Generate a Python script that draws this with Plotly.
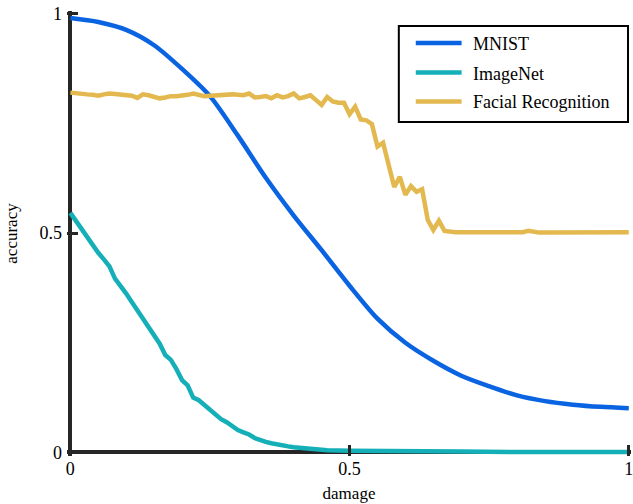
import plotly.graph_objects as go

# Accuracy versus damage for three networks
damage_mnist = [0.00, 0.05, 0.10, 0.15, 0.20, 0.25, 0.30, 0.35, 0.40, 0.45, 0.50,
                0.55, 0.60, 0.65, 0.70, 0.75, 0.80, 0.85, 0.90, 0.95, 1.00]
acc_mnist = [0.990, 0.981, 0.963, 0.928, 0.874, 0.812, 0.722, 0.626, 0.540, 0.461, 0.380,
             0.305, 0.250, 0.209, 0.175, 0.151, 0.130, 0.117, 0.109, 0.104, 0.101]

damage_imagenet = [0.00, 0.01, 0.02, 0.03, 0.04, 0.05, 0.06, 0.07, 0.08, 0.09,
                   0.10, 0.11, 0.12, 0.13, 0.14, 0.15, 0.16, 0.17, 0.18, 0.19,
                   0.20, 0.21, 0.22, 0.23, 0.24, 0.25, 0.26, 0.27, 0.28, 0.29,
                   0.30, 0.31, 0.32, 0.33, 0.34, 0.35, 0.36, 0.37, 0.38, 0.39,
                   0.40, 0.42, 0.44, 0.46, 0.50, 0.55, 0.60, 0.70, 0.80, 0.90, 1.00]
acc_imagenet = [0.546, 0.527, 0.510, 0.492, 0.474, 0.455, 0.440, 0.424, 0.396, 0.380,
                0.362, 0.343, 0.324, 0.306, 0.283, 0.264, 0.248, 0.222, 0.211, 0.190,
                0.165, 0.153, 0.125, 0.119, 0.108, 0.098, 0.087, 0.076, 0.069, 0.060,
                0.051, 0.046, 0.041, 0.033, 0.028, 0.024, 0.021, 0.018, 0.016, 0.014,
                0.012, 0.009, 0.007, 0.005, 0.004, 0.003, 0.002, 0.002, 0.001, 0.001, 0.001]

damage_face = [round(i * 0.01, 2) for i in range(101)]
acc_face = [0.820, 0.818, 0.818, 0.816, 0.815, 0.813, 0.816, 0.818, 0.817, 0.816,
            0.815, 0.813, 0.808, 0.816, 0.814, 0.810, 0.807, 0.809, 0.812, 0.812,
            0.813, 0.815, 0.818, 0.814, 0.812, 0.813, 0.814, 0.814, 0.815, 0.816,
            0.815, 0.814, 0.818, 0.809, 0.810, 0.812, 0.807, 0.814, 0.809, 0.812,
            0.818, 0.807, 0.810, 0.814, 0.803, 0.792, 0.810, 0.800, 0.797, 0.797,
            0.771, 0.788, 0.759, 0.757, 0.748, 0.697, 0.706, 0.651, 0.605, 0.628,
            0.587, 0.607, 0.594, 0.600, 0.530, 0.507, 0.528, 0.505, 0.503, 0.502,
            0.502, 0.502, 0.502, 0.502, 0.501, 0.502, 0.501, 0.501, 0.501, 0.501,
            0.501, 0.502, 0.505, 0.502, 0.501, 0.501, 0.501, 0.501, 0.501, 0.501,
            0.501, 0.501, 0.501, 0.501, 0.501, 0.501, 0.501, 0.501, 0.501, 0.501, 0.502]

series_names = ["MNIST", "ImageNet", "Facial Recognition"]
series_colors = ["#0a64e1", "#15afb8", "#e3b84f"]

tick_vals = [0, 0.5, 1]
tick_text = ["0", "0.5", "1"]

SERIF = "Liberation Serif, Times New Roman, serif"
AXIS = "#262626"
LW = 4.5

W, H = 633, 504
ML, MR, MT, MB = 67, 0, 11, 48
PW, PH = W - ML - MR, H - MT - MB


def px_x(px):
    """Pixel column -> paper x."""
    return (px - ML) / PW


def px_y(py):
    """Pixel row -> paper y."""
    return (H - MB - py) / PH


fig = go.Figure()
fig.add_trace(go.Scatter(x=damage_mnist, y=acc_mnist, name=series_names[0], mode="lines",
                         line=dict(color=series_colors[0], width=LW, shape="spline", smoothing=0.8)))
fig.add_trace(go.Scatter(x=damage_imagenet, y=acc_imagenet, name=series_names[1], mode="lines",
                         line=dict(color=series_colors[1], width=LW)))
fig.add_trace(go.Scatter(x=damage_face, y=acc_face, name=series_names[2], mode="lines",
                         line=dict(color=series_colors[2], width=LW)))

axis_common = dict(
    showgrid=False, showline=False,
    zeroline=True, zerolinecolor=AXIS, zerolinewidth=4,
    ticks="inside", ticklen=11, tickwidth=3, tickcolor=AXIS,
    tickvals=tick_vals, ticktext=tick_text, ticklabeloverflow="allow",
    tickfont=dict(family=SERIF, size=18, color="#000000"),
)

# Boxed legend in the upper right corner
box_l, box_r, box_t, box_b = 400, 630, 26, 122
row_y = [43, 72.5, 101.5]
shapes = [dict(type="rect", xref="paper", yref="paper",
               x0=px_x(box_l), x1=px_x(box_r), y0=px_y(box_b), y1=px_y(box_t),
               line=dict(color="#000000", width=2), fillcolor="white", layer="above")]
annotations = []
for name, color, ry in zip(series_names, series_colors, row_y):
    shapes.append(dict(type="line", xref="paper", yref="paper",
                       x0=px_x(417), x1=px_x(463), y0=px_y(ry), y1=px_y(ry),
                       line=dict(color=color, width=LW), layer="above"))
    annotations.append(dict(text=name, xref="paper", yref="paper",
                            x=px_x(472), y=px_y(ry + 1), xanchor="left", yanchor="middle",
                            showarrow=False, font=dict(family=SERIF, size=18, color="#000000")))

fig.update_layout(
    width=W, height=H,
    margin=dict(l=ML, r=MR, t=MT, b=MB),
    paper_bgcolor="white", plot_bgcolor="white",
    font=dict(family=SERIF, size=17, color="#000000"),
    showlegend=False,
    xaxis=dict(range=[-0.006, 1.004], title=dict(text="damage", standoff=9,
               font=dict(family=SERIF, size=17)), **axis_common),
    yaxis=dict(range=[-0.008, 1.006], ticklabelstandoff=4,
               title=dict(text="accuracy", standoff=17, font=dict(family=SERIF, size=17)),
               **axis_common),
    shapes=shapes,
    annotations=annotations,
)

fig.write_html("out.html")
